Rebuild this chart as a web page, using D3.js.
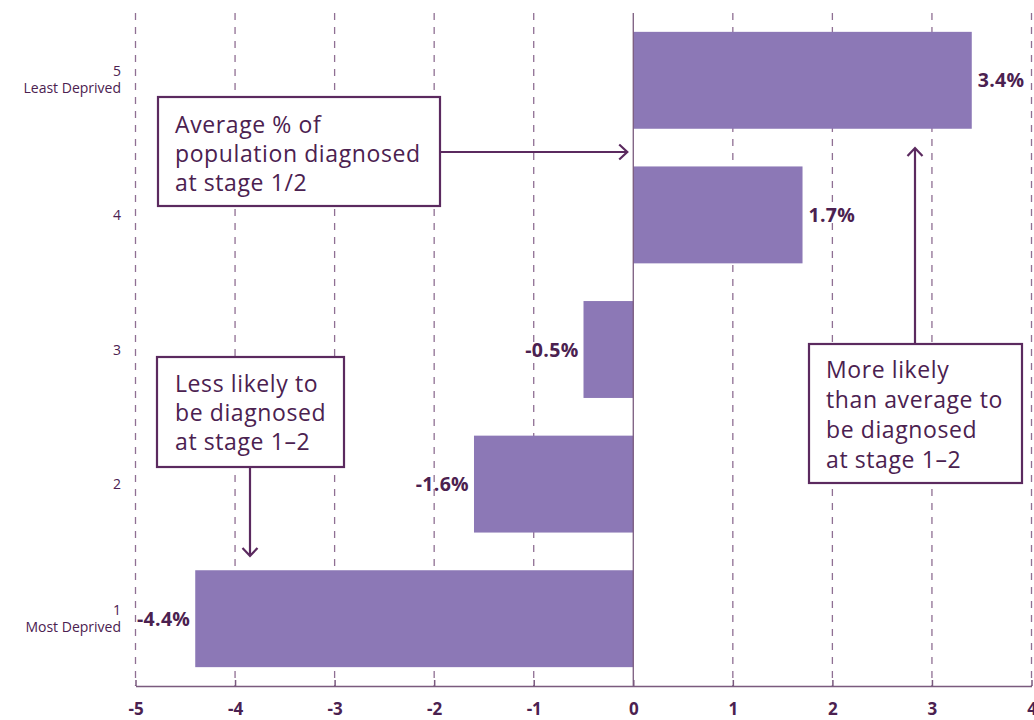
<!DOCTYPE html>
<meta charset="utf-8">
<script src="https://cdn.jsdelivr.net/npm/d3@7"></script>
<style>
  body { margin: 0; background: #fff; }
  text { font-family: "Open Sans", "Noto Sans", sans-serif; fill: #4b2150; }
  .grid line { stroke: #8f6f93; stroke-width: 1.3px; stroke-dasharray: 7,7; }
  .box { fill: #fff; stroke: #5b2a5f; stroke-width: 2.2px; }
  .arrow { fill: none; stroke: #5b2a5f; stroke-width: 2.2px; }
</style>
<body>
<script>

// data
var quintiles = ["5", "4", "3", "2", "1"];
var quintileNames = ["Least Deprived", "", "", "", "Most Deprived"];
var values = [3.4, 1.7, -0.5, -1.6, -4.4];
var xTicks = [-5, -4, -3, -2, -1, 0, 1, 2, 3, 4];

var width = 1034,
    height = 720;

var svg = d3.select("body").append("svg")
    .attr("width", width)
    .attr("height", height);

var x = d3.scaleLinear().domain([-5, 4]).range([135.5, 1031.5]);
var y = d3.scaleBand().domain(quintiles).range([13, 686])
    .paddingInner(0.28).paddingOuter(0.14);

// dashed gridlines
svg.append("g").attr("class", "grid")
  .selectAll("line")
  .data(xTicks.filter(function(d) { return d != 0; }))
  .enter().append("line")
    .attr("x1", function(d) { return x(d); })
    .attr("x2", function(d) { return x(d); })
    .attr("y1", 13)
    .attr("y2", 686);

// bars
svg.append("g")
  .selectAll("rect")
  .data(values)
  .enter().append("rect")
    .attr("x", function(d) { return x(Math.min(0, d)); })
    .attr("width", function(d) { return Math.abs(x(d) - x(0)); })
    .attr("y", function(d, i) { return y(quintiles[i]); })
    .attr("height", y.bandwidth())
    .style("fill", "#8c78b6");

// zero line
svg.append("line")
    .attr("x1", x(0)).attr("x2", x(0))
    .attr("y1", 13).attr("y2", 686)
    .style("stroke", "#7a5a7e")
    .style("stroke-width", 1.3);

// x axis
var xAxis = svg.append("g")
    .attr("transform", "translate(0,686)")
    .call(d3.axisBottom(x).tickValues(xTicks).tickSize(0).tickPadding(17)
      .tickFormat(function(d) { return String(d); }));
xAxis.select(".domain").style("stroke", "#7a5a7e").style("stroke-width", 1.5);
xAxis.selectAll("text")
    .style("font-size", "17px")
    .style("font-weight", 700)
    .style("fill", "#4b2150");
// small tick marks on the axis line
xAxis.selectAll(".tick").append("line")
    .attr("y1", -6).attr("y2", 0)
    .style("stroke", "#7a5a7e").style("stroke-width", 1.5);

// y labels
var yLab = svg.append("g").selectAll("g")
  .data(quintiles)
  .enter().append("g")
    .attr("transform", function(d) {
      return "translate(121," + (y(d) + y.bandwidth() / 2) + ")";
    });
yLab.append("text")
    .attr("text-anchor", "end")
    .attr("y", function(d, i) { return quintileNames[i] ? -4 : 5; })
    .style("font-size", "14px")
    .text(function(d) { return d; });
yLab.append("text")
    .attr("text-anchor", "end")
    .attr("y", 13)
    .style("font-size", "14px")
    .text(function(d, i) { return quintileNames[i]; });

// value labels
svg.append("g").selectAll("text")
  .data(values)
  .enter().append("text")
    .attr("x", function(d) { return d >= 0 ? x(d) + 6 : x(d) - 5; })
    .attr("y", function(d, i) { return y(quintiles[i]) + y.bandwidth() / 2 + 7; })
    .attr("text-anchor", function(d) { return d >= 0 ? "start" : "end"; })
    .style("font-size", "19.5px")
    .style("font-weight", 700)
    .style("letter-spacing", "0.3px")
    .text(function(d) { return d.toFixed(1) + "%"; });

// annotation boxes
function noteBox(x0, y0, w, h, lines, tx, ty, dy) {
  svg.append("rect").attr("class", "box")
      .attr("x", x0).attr("y", y0).attr("width", w).attr("height", h);
  var t = svg.append("text")
      .attr("x", tx).attr("y", ty)
      .style("font-size", "23px")
      .style("letter-spacing", "0.6px");
  lines.forEach(function(l, i) {
    t.append("tspan").attr("x", tx).attr("dy", i == 0 ? 0 : dy).text(l);
  });
}

function arrow(x1, y1, x2, y2) {
  var a = Math.atan2(y2 - y1, x2 - x1), s = 11;
  svg.append("path").attr("class", "arrow")
      .attr("d", "M" + x1 + "," + y1 + "L" + x2 + "," + y2 +
        "M" + (x2 - s * Math.cos(a - 0.75)) + "," + (y2 - s * Math.sin(a - 0.75)) +
        "L" + x2 + "," + y2 +
        "L" + (x2 - s * Math.cos(a + 0.75)) + "," + (y2 - s * Math.sin(a + 0.75)));
}

arrow(440, 152, x(0) - 6, 152);
noteBox(158, 97, 282, 109, ["Average % of", "population diagnosed", "at stage 1/2"], 175, 133, 29);

arrow(250, 467, 250, 556);
noteBox(157, 357, 187, 110, ["Less likely to", "be diagnosed", "at stage 1\u20132"], 175, 392, 29);

arrow(915, 344, 915, 148);
noteBox(809, 344, 213, 139, ["More likely", "than average to", "be diagnosed", "at stage 1\u20132"], 826, 378, 30);

</script>
</body>
